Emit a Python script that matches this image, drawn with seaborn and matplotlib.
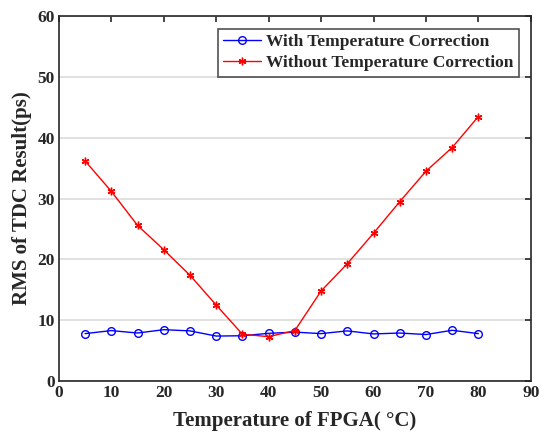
import matplotlib
matplotlib.use("Agg")
import matplotlib.pyplot as plt
import seaborn as sns
import pandas as pd

temps = [5, 10, 15, 20, 25, 30, 35, 40, 45, 50, 55, 60, 65, 70, 75, 80]
with_corr = [7.8, 8.3, 7.9, 8.45, 8.25, 7.4, 7.45, 7.85, 8.05, 7.8, 8.25, 7.75, 7.9, 7.65, 8.35, 7.8]
without_corr = [36.2, 31.2, 25.6, 21.6, 17.4, 12.5, 7.7, 7.3, 8.3, 14.8, 19.3, 24.3, 29.5, 34.5, 38.4, 43.5]
labels = ["With Temperature Correction", "Without Temperature Correction"]

df = pd.DataFrame({
    "T": temps * 2,
    "RMS": with_corr + without_corr,
    "series": [labels[0]] * len(temps) + [labels[1]] * len(temps),
})

sns.set_style("white")
plt.rcParams["font.family"] = ["Liberation Serif", "DejaVu Serif"]
plt.rcParams["font.weight"] = "bold"

fig = plt.figure(figsize=(5.4, 4.37), dpi=100)
ax = fig.add_axes([0.109, 0.128, 0.874, 0.835])

ax.set_axisbelow(True)
ax.yaxis.grid(True, color="#dcdcdc", linewidth=1.2)

sns.lineplot(data=df[df.series == labels[0]], x="T", y="RMS", ax=ax, color="blue",
             marker="o", markersize=5.5, markerfacecolor="none", markeredgecolor="blue",
             markeredgewidth=1.0, linewidth=1.0, label=labels[0])
sns.lineplot(data=df[df.series == labels[1]], x="T", y="RMS", ax=ax, color="red",
             marker=(6, 2, 0), markersize=5.5, markeredgecolor="red",
             markeredgewidth=1.0, linewidth=1.0, label=labels[1])

ax.set_xlim(0, 90)
ax.set_ylim(0, 60)
ax.set_xticks(range(0, 91, 10))
ax.set_yticks(range(0, 61, 10))
ax.tick_params(direction="in", top=True, right=True, length=4, width=1.2,
               labelsize=12.5, colors="#262626", pad=3)
for lab in ax.get_xticklabels() + ax.get_yticklabels():
    lab.set_fontweight("bold")
for s in ax.spines.values():
    s.set_color("#262626")
    s.set_linewidth(1.2)

ax.set_xlabel("Temperature of FPGA( °C)", fontsize=15, fontweight="bold", color="#262626",
              labelpad=7)
ax.set_ylabel("RMS of TDC Result(ps)", fontsize=15, fontweight="bold", color="#262626",
              labelpad=4)

leg = ax.legend(loc="upper right", bbox_to_anchor=(0.982, 0.975), fontsize=12.5,
                frameon=True, fancybox=False, edgecolor="#262626", handlelength=2.2,
                borderpad=0.3, labelspacing=0.3, handletextpad=0.3, borderaxespad=0.2)
leg.get_frame().set_linewidth(1.2)
for t in leg.get_texts():
    t.set_fontweight("bold")

fig.savefig("out.png", dpi=100)
